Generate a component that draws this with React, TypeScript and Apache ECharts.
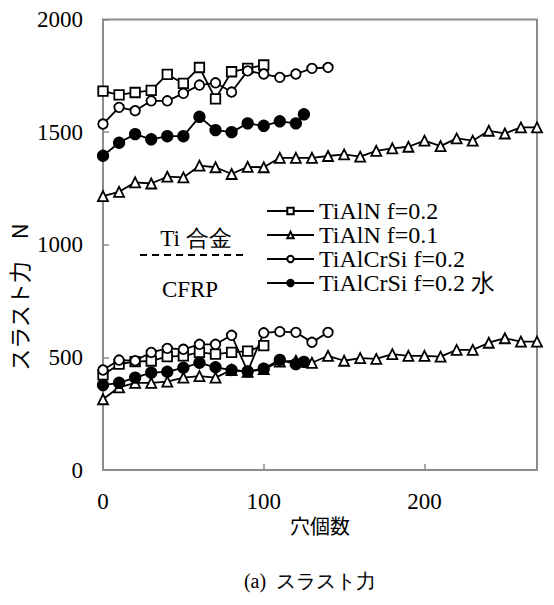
import React, { useEffect, useRef } from "react";
import * as echarts from "echarts";

const seriesNames = ["TiAlN f=0.2", "TiAlN f=0.1", "TiAlCrSi f=0.2", "TiAlCrSi f=0.2 水"];

const holesSquare = [0, 10, 20, 30, 40, 50, 60, 70, 80, 90, 100];
const squareTi = [1682, 1665, 1676, 1685, 1756, 1716, 1787, 1648, 1768, 1783, 1798];
const squareCfrp = [422, 470, 481, 484, 503, 507, 522, 514, 522, 528, 552];

const holesTriangle = [0, 10, 20, 30, 40, 50, 60, 70, 80, 90, 100, 110, 120, 130, 140, 150, 160, 170, 180, 190, 200, 210, 220, 230, 240, 250, 260, 270];
const triangleTi = [1216, 1235, 1277, 1272, 1302, 1299, 1351, 1344, 1314, 1346, 1344, 1386, 1386, 1386, 1394, 1401, 1391, 1417, 1428, 1435, 1462, 1438, 1472, 1462, 1506, 1494, 1521, 1521];
const triangleCfrp = [314, 367, 387, 387, 392, 410, 417, 410, 444, 436, 448, 481, 485, 476, 507, 485, 497, 493, 514, 507, 507, 503, 533, 533, 565, 585, 570, 570];

const holesCircle = [0, 10, 20, 30, 40, 50, 60, 70, 80, 90, 100, 110, 120, 130, 140];
const circleTi = [1536, 1610, 1595, 1639, 1639, 1672, 1709, 1719, 1678, 1772, 1758, 1743, 1758, 1783, 1787];
const circleCfrp = [444, 488, 485, 522, 540, 536, 558, 558, 598, 438, 609, 614, 611, 567, 611];

const holesFilled = [0, 10, 20, 30, 40, 50, 60, 70, 80, 90, 100, 110, 120, 125];
const filledTi = [1395, 1453, 1491, 1468, 1482, 1482, 1568, 1509, 1500, 1539, 1528, 1548, 1539, 1579];
const filledCfrp = [377, 387, 410, 432, 436, 454, 476, 456, 444, 438, 450, 489, 470, 480];

const xTicks = [0, 100, 200];
const yTicks = [0, 500, 1000, 1500, 2000];

const SERIF = "Liberation Serif";
const CJK = "Noto Sans CJK JP";

function pairs(xs: number[], ys: number[]) {
  return xs.map((x, i) => [x, ys[i]]);
}

export default function App() {
  const ref = useRef<HTMLDivElement>(null);
  useEffect(() => {
    document.body.style.margin = "0";
    if (!ref.current) return;
    const chart = echarts.init(ref.current, undefined, { renderer: "svg" });
    const mk = (name: string, data: number[][], symbol: string, size: number, filled: boolean) => ({
      type: "line",
      name,
      data,
      symbol,
      symbolSize: size,
      showSymbol: true,
      lineStyle: { color: "#000", width: 1.8 },
      itemStyle: { color: filled ? "#000" : "#fff", borderColor: "#000", borderWidth: 1.8 },
      emphasis: { disabled: true },
      z: 3,
    });
    const series = [
      mk(seriesNames[0], pairs(holesSquare, squareTi), "rect", 9.5, false),
      mk(seriesNames[0], pairs(holesSquare, squareCfrp), "rect", 9.5, false),
      mk(seriesNames[1], pairs(holesTriangle, triangleTi), "triangle", 10, false),
      mk(seriesNames[1], pairs(holesTriangle, triangleCfrp), "triangle", 10, false),
      mk(seriesNames[2], pairs(holesCircle, circleTi), "circle", 9.5, false),
      mk(seriesNames[2], pairs(holesCircle, circleCfrp), "circle", 9.5, false),
      mk(seriesNames[3], pairs(holesFilled, filledTi), "circle", 10.5, true),
      mk(seriesNames[3], pairs(holesFilled, filledCfrp), "circle", 10.5, true),
    ];
    const txt = (text: string, x: number, y: number, font: string, rotation = 0) => ({
      type: "text",
      x,
      y,
      rotation,
      style: {
        text,
        font,
        fill: "#000",
        textAlign: "center",
        textVerticalAlign: "middle",
        align: "center",
        verticalAlign: "middle",
      },
    });
    const labelStyle = {
      color: "#000",
      fontSize: 23,
      fontFamily: SERIF,
      fontWeight: "normal",
      fontStyle: "normal",
    };
    chart.setOption({
      animation: false,
      textStyle: { fontFamily: SERIF, fontSize: 23, color: "#000" },
      grid: {
        left: 103,
        top: 19.5,
        right: 17,
        bottom: 135,
        show: true,
        borderColor: "#8c8c8c",
        borderWidth: 2,
        backgroundColor: "transparent",
      },
      xAxis: {
        type: "value",
        min: 0,
        max: 270,
        interval: 100,
        axisLine: { show: true, lineStyle: { color: "#8c8c8c", width: 2 } },
        axisTick: { show: true, inside: true, length: 6, lineStyle: { color: "#8c8c8c", width: 1.5 } },
        splitLine: { show: false },
        axisLabel: {
          ...labelStyle,
          margin: 20,
          showMaxLabel: false,
          formatter: (v: number) => (xTicks.includes(v) ? String(v) : ""),
        },
      },
      yAxis: {
        type: "value",
        min: 0,
        max: 2000,
        interval: 500,
        axisLine: { show: true, lineStyle: { color: "#8c8c8c", width: 2 } },
        axisTick: { show: true, inside: true, length: 6, lineStyle: { color: "#8c8c8c", width: 1.5 } },
        splitLine: { show: false },
        axisLabel: {
          ...labelStyle,
          margin: 20,
          formatter: (v: number) => (yTicks.includes(v) ? String(v) : ""),
        },
      },
      legend: {
        orient: "vertical",
        left: 266,
        top: 199,
        padding: 0,
        itemWidth: 47,
        itemHeight: 8,
        itemGap: 0,
        selectedMode: false,
        data: seriesNames,
        textStyle: { ...labelStyle, fontSize: 24, lineHeight: 23.5 },
      },
      graphic: [
        txt("スラスト力　N", 18, 297, `22px ${CJK}`, Math.PI / 2),
        txt("穴個数", 320, 525, `20px ${CJK}`),
        txt("(a)  スラスト力", 310, 581, `20px ${SERIF}`),
        txt("Ti 合金", 196, 238, `23px ${SERIF}`),
        txt("CFRP", 190, 289, `23px ${SERIF}`),
        {
          type: "line",
          shape: { x1: 140, y1: 255, x2: 245, y2: 255 },
          style: { stroke: "#000", lineWidth: 2, lineDash: [7, 5] },
        },
      ],
      series,
    });
    return () => chart.dispose();
  }, []);
  return <div ref={ref} style={{ width: 554, height: 605 }} />;
}
